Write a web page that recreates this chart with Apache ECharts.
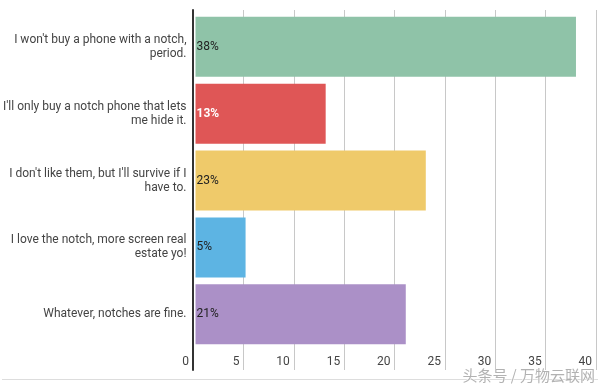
<!DOCTYPE html>
<html><head><meta charset="utf-8">
<script src="https://cdn.jsdelivr.net/npm/echarts@6/dist/echarts.min.js"></script>
<style>html,body{margin:0;padding:0;background:#fff}#c{width:602px;height:387px}</style>
</head><body><div id="c"></div>
<script>
const categories = [
  "I won't buy a phone with a notch,\nperiod.",
  "I'll only buy a notch phone that lets\nme hide it.",
  "I don't like them, but I'll survive if I\nhave to.",
  "I love the notch, more screen real\nestate yo!",
  "Whatever, notches are fine."
];
const values = [38, 13, 23, 5, 21];
const barColors = ['#8FC3A8', '#DF5656', '#EFCA6A', '#5DB4E3', '#AB90C7'];
const xTicks = [0, 5, 10, 15, 20, 25, 30, 35, 40];
const watermark = '头条号 / 万物云联网';

const chart = echarts.init(document.getElementById('c'));
const font = 'Roboto, sans-serif';
chart.setOption({
  animation: false,
  grid: [
    {left: 193, right: 6, top: 13.3, height: 334.5},
    {left: 193, right: 6, top: 10, bottom: 17}
  ],
  xAxis: [
    {gridIndex: 0, type: 'value', min: 0, max: 40, show: false},
    {gridIndex: 1, type: 'value', min: xTicks[0], max: xTicks[xTicks.length-1], interval: 5,
     axisLine: {show: false}, axisTick: {show: false},
     splitLine: {show: true, lineStyle: {color: '#c8c8c8', width: 1}},
     axisLabel: {inside: true, margin: 2, align: 'right', verticalAlign: 'bottom',
       padding: [0, 4, 0, 0], color: '#444', fontSize: 12, fontFamily: font}}
  ],
  yAxis: [
    {gridIndex: 0, type: 'category', data: categories, inverse: true,
     axisLine: {show: false}, axisTick: {show: false},
     axisLabel: {margin: 9, color: '#444', fontSize: 12, fontFamily: font, lineHeight: 14, align: 'right'}},
    {gridIndex: 1, type: 'value', min: 0, max: 1, z: 5,
     axisLine: {show: true, lineStyle: {color: '#333', width: 2}},
     axisTick: {show: false}, axisLabel: {show: false}, splitLine: {show: false}}
  ],
  series: [{
    type: 'bar', xAxisIndex: 0, yAxisIndex: 0,
    barWidth: 60,
    data: values.map((v, i) => ({
      value: v,
      itemStyle: {color: barColors[i]},
      label: i === 1 ? {color: '#fff', fontWeight: 'bold'} : {}
    })),
    label: {show: true, position: 'insideLeft', distance: 1, formatter: '{c}%',
      color: '#222', fontSize: 12, fontFamily: font}
  }],
  graphic: [
    {type: 'line', shape: {x1: 2, y1: 379.5, x2: 598, y2: 379.5}, style: {stroke: '#ddd', lineWidth: 1}},
    {type: 'text', left: 462, top: 367, style: {text: watermark, fill: 'rgba(165,165,165,0.85)',
      font: '15px "Noto Sans CJK SC", sans-serif', stroke: 'rgba(255,255,255,0.8)', lineWidth: 1}}
  ]
});
</script></body></html>
